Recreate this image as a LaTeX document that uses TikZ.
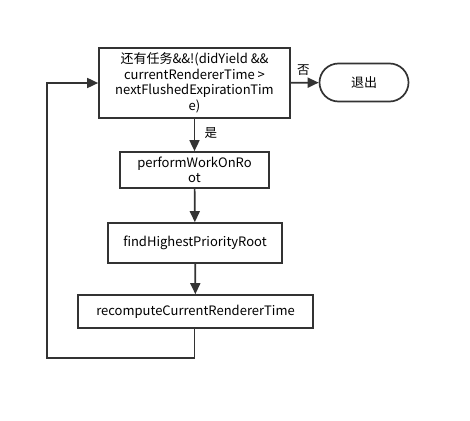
\documentclass[tikz,border=0pt]{standalone}
\usepackage{fontspec}
\setmainfont{Noto Sans CJK SC}
\usetikzlibrary{arrows.meta,shapes.misc}
\begin{document}
\begin{tikzpicture}[x=1pt,y=-1pt,
  box/.style={draw=black!80,line width=1.7pt,fill=white,inner sep=0pt,align=center,font=\fontsize{13}{15.5}\selectfont},
  term/.style={box,rounded rectangle},
  arr/.style={draw=black!80,line width=1.7pt,-{Triangle[length=11pt,width=10pt]}},
  lbl/.style={font=\fontsize{12.5}{13}\selectfont}]
\useasboundingbox (0,0) rectangle (470,420);
\node[box,minimum width=191pt,minimum height=70pt] (cond) at (194.5,83) {还有任务\&\&!(didYield \&\&\\currentRendererTime >\\nextFlushedExpirationTim\\e)};
\node[term,minimum width=89pt,minimum height=38pt] (exit) at (364,82.5) {退出};
\node[box,minimum width=149pt,minimum height=36pt] (perf) at (194.5,170) {performWorkOnRo\\ot};
\node[box,minimum width=174pt,minimum height=40pt] (find) at (195,243) {findHighestPriorityRoot};
\node[box,minimum width=235pt,minimum height=33pt] (reco) at (195.5,311.5) {recomputeCurrentRendererTime};
\coordinate (c1) at (194.5,358);
\coordinate (c2) at (47,358);
\coordinate (c3) at (47,83);
\draw[arr] (cond) -- (exit) node[lbl,pos=0.45,above=3pt] {否};
\draw[arr] (cond) -- (perf) node[lbl,pos=0.45,right=6pt] {是};
\draw[arr] (perf) -- (find);
\draw[arr] (find) -- (reco);
\draw[arr] (reco.south -| c1) -- (c1) -- (c2) -- (c3) -- (cond.west);
\end{tikzpicture}
\end{document}
